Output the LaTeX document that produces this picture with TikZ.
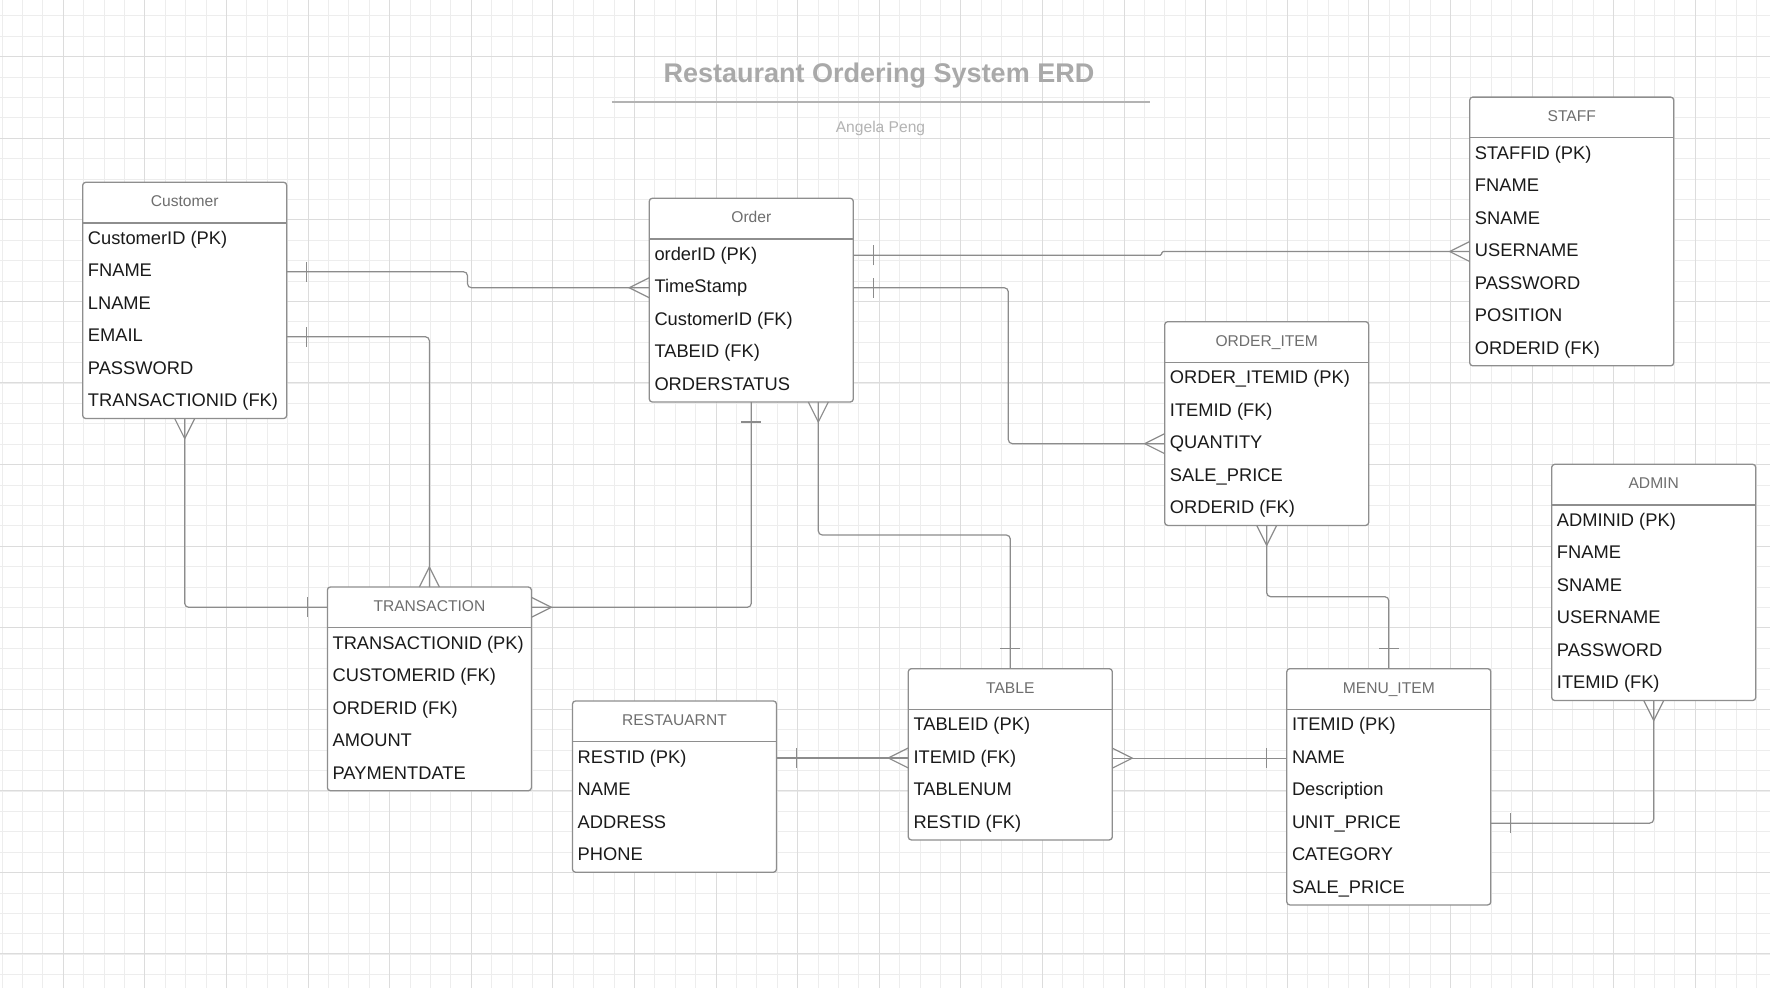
\documentclass[tikz,border=0pt]{standalone}
\usepackage{fontspec}
\setmainfont{Liberation Sans}
\usetikzlibrary{calc}
\definecolor{gridminor}{HTML}{EDEDED}
\definecolor{gridmajor}{HTML}{DCDCDC}
\definecolor{boxline}{HTML}{8E8E8E}
\definecolor{connline}{HTML}{8C8C8C}
\definecolor{headtext}{HTML}{6E6E6E}
\definecolor{rowtext}{HTML}{1A1A1A}
\definecolor{titlegray}{HTML}{A9A9A9}
\definecolor{subgray}{HTML}{B3B3B3}
\tikzset{
  entbox/.style={draw=boxline, line width=1.3pt, fill=white, rounded corners=3pt,
    minimum width=204pt, inner sep=0pt, outer sep=0pt},
  sepline/.style={draw=boxline, line width=1.3pt},
  enthead/.style={font=\fontsize{15.6}{18}\selectfont, text=headtext, inner sep=0pt, anchor=base},
  entrow/.style={font=\fontsize{18.3}{22}\selectfont, text=rowtext, inner sep=0pt, anchor=base west},
  conn/.style={draw=connline, line width=1.2pt, rounded corners=4pt},
  minorline/.style={draw=gridminor, line width=0.9pt},
  majorline/.style={draw=gridmajor, line width=1pt},
  crowfoot/.pic={\draw[draw=connline, line width=1.2pt] (0,10) -- (20,0) -- (0,-10);},
  onebar/.pic={\draw[draw=connline, line width=1.2pt] (20,10) -- (20,-10);}
}
\newcommand{\erent}[6]{%
  \node[entbox, anchor=north west, minimum height={41.2+32.5*#6}] (#1) at (#2,#3) {};
  \draw[sepline] ($(#1.north west)+(0,40.7)$) -- ($(#1.north east)+(0,40.7)$);
  \coordinate (#1-hc) at ($(#1.north)+(0,20.3)$);
  \node[enthead] (#1-h) at ($(#1.north)+(0,24.6)$) {#4};
  \foreach \rw [count=\i from 0] in {#5} {
    \coordinate (#1-r\i) at ($(#1.north west)+(0,{40.7+16.25+32.5*\i})$);
    \node[entrow] (#1-t\i) at ($(#1-r\i)+(5,5.1)$) {\rw};
  }
}
\begin{document}
\begin{tikzpicture}[x=1pt,y=-1pt]
\useasboundingbox (0,0) rectangle (1770,988);
\fill[white] (0,0) rectangle (1770,988);
% grid
\foreach \i in {0,...,86} \draw[minorline] ({2.1+20.4*\i},0) -- ({2.1+20.4*\i},988);
\foreach \j in {0,...,48} \draw[minorline] (0,{15.9+20.4*\j}) -- (1770,{15.9+20.4*\j});
\foreach \i in {0,...,21} \draw[majorline] ({63.3+81.6*\i},0) -- ({63.3+81.6*\i},988);
\foreach \j in {0,...,11} \draw[majorline] (0,{56.7+81.55*\j}) -- (1770,{56.7+81.55*\j});
% title
\node[font=\bfseries\fontsize{27}{32}\selectfont, text=titlegray, anchor=base, inner sep=0pt] (title) at (879,82.7) {Restaurant Ordering System ERD};
\coordinate (tl1) at (611.9,101.7);
\coordinate (tl2) at (1149.5,101.7);
\draw[draw=subgray, line width=2pt] (tl1) -- (tl2);
\node[font=\fontsize{15.6}{18}\selectfont, text=subgray, anchor=base, inner sep=0pt] (author) at (880.5,132) {Angela Peng};
% entities
\erent{cust}{82.7}{182.3}{Customer}{CustomerID (PK),FNAME,LNAME,EMAIL,PASSWORD,TRANSACTIONID (FK)}{6}
\erent{order}{649.3}{198.3}{Order}{orderID (PK),TimeStamp,CustomerID (FK),TABEID (FK),ORDERSTATUS}{5}
\erent{staff}{1469.7}{97.1}{STAFF}{STAFFID (PK),FNAME,SNAME,USERNAME,PASSWORD,POSITION,ORDERID (FK)}{7}
\erent{oitem}{1164.7}{321.7}{ORDER\_ITEM}{ORDER\_ITEMID (PK),ITEMID (FK),QUANTITY,SALE\_PRICE,ORDERID (FK)}{5}
\erent{admin}{1551.7}{464.3}{ADMIN}{ADMINID (PK),FNAME,SNAME,USERNAME,PASSWORD,ITEMID (FK)}{6}
\erent{trans}{327.4}{587}{TRANSACTION}{TRANSACTIONID (PK),CUSTOMERID (FK),ORDERID (FK),AMOUNT,PAYMENTDATE}{5}
\erent{rest}{572.5}{701}{RESTAUARNT}{RESTID (PK),NAME,ADDRESS,PHONE}{4}
\erent{table}{908.3}{668.7}{TABLE}{TABLEID (PK),ITEMID (FK),TABLENUM,RESTID (FK)}{4}
\erent{menu}{1286.8}{668.7}{MENU\_ITEM}{ITEMID (PK),NAME,Description,UNIT\_PRICE,CATEGORY,SALE\_PRICE}{6}
% connectors
\coordinate (j1) at (467.5,0);
\draw[conn] (cust.east |- cust-r1) -| (j1 |- order-r1) -- (order.west |- order-r1);
\pic at (cust.east |- cust-r1) {onebar};
\pic[rotate=180] at (order.west |- order-r1) {crowfoot};

\draw[conn] (cust.east |- cust-r3) -| (trans.north);
\pic at (cust.east |- cust-r3) {onebar};
\pic[rotate=90] at (trans.north) {crowfoot};

\draw[conn] (cust.south) |- (trans.west |- trans-hc);
\pic[rotate=-90] at (cust.south) {crowfoot};
\pic[rotate=180] at (trans.west |- trans-hc) {onebar};

\draw[conn] (order.south) |- (trans.east |- trans-hc);
\pic[rotate=-90] at (order.south) {onebar};
\pic at (trans.east |- trans-hc) {crowfoot};

\coordinate (j5) at (818.3,535);
\draw[conn] (order.south -| j5) -- (j5) -| (table.north);
\pic[rotate=-90] at (order.south -| j5) {crowfoot};
\pic[rotate=90] at (table.north) {onebar};

\coordinate (j6) at (1161.7,0);
\draw[conn, rounded corners=1.5pt] (order.east |- order-r0) -| (j6 |- staff-r3) -- (staff.west |- staff-r3);
\pic at (order.east |- order-r0) {onebar};
\pic[rotate=180] at (staff.west |- staff-r3) {crowfoot};

\coordinate (j7) at (1008.3,0);
\draw[conn] (order.east |- order-r1) -| (j7 |- oitem-r2) -- (oitem.west |- oitem-r2);
\pic at (order.east |- order-r1) {onebar};
\pic[rotate=180] at (oitem.west |- oitem-r2) {crowfoot};

\coordinate (j8) at (0,596.7);
\draw[conn] (oitem.south) -- (oitem.south |- j8) -| (menu.north);
\pic[rotate=-90] at (oitem.south) {crowfoot};
\pic[rotate=90] at (menu.north) {onebar};

\draw[conn] (rest.east |- rest-r0) -- (table.west |- rest-r0);
\pic at (rest.east |- rest-r0) {onebar};
\pic[rotate=180] at (table.west |- rest-r0) {crowfoot};

\draw[conn] (table.east |- table-r1) -- (menu.west |- table-r1);
\pic at (table.east |- table-r1) {crowfoot};
\pic[rotate=180] at (menu.west |- table-r1) {onebar};

\draw[conn] (menu.east |- menu-r3) -| (admin.south);
\pic at (menu.east |- menu-r3) {onebar};
\pic[rotate=-90] at (admin.south) {crowfoot};
\end{tikzpicture}
\end{document}
